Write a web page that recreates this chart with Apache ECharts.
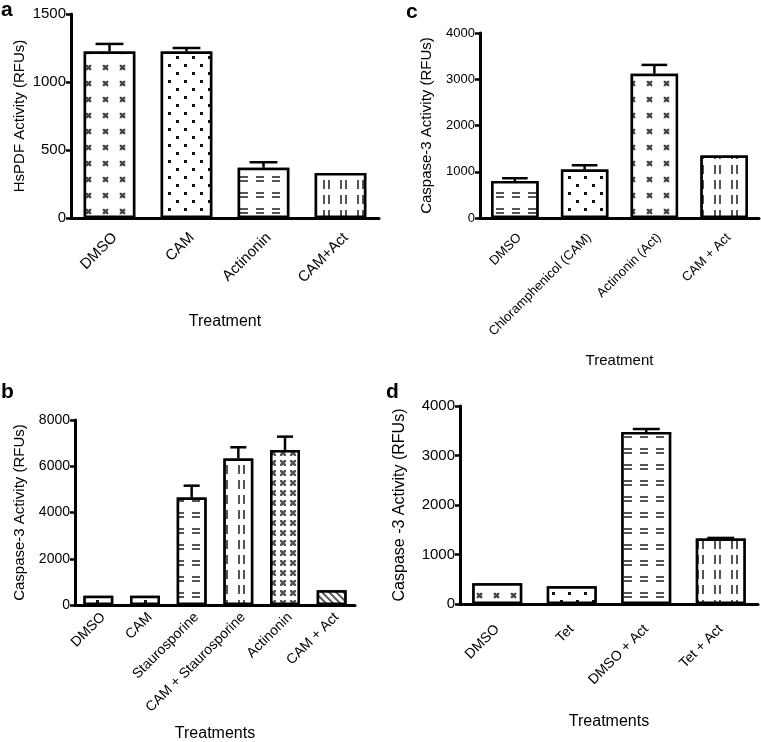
<!DOCTYPE html>
<html><head><meta charset="utf-8">
<script src="https://cdn.jsdelivr.net/npm/echarts@6/dist/echarts.min.js"></script>
<style>html,body{margin:0;padding:0;background:#fff}#c{width:761px;height:742px}</style>
</head><body><div id="c"></div>
<script>
// ---- Panel a ----
const aCategories = ['DMSO', 'CAM', 'Actinonin', 'CAM+Act'];
const aValues = [1225, 1225, 370, 330];
const aErrors = [55, 25, 40, 0];
const aTicks = [0, 500, 1000, 1500];
// ---- Panel c ----
const cCategories = ['DMSO', 'Chloramphenicol (CAM)', 'Actinonin (Act)', 'CAM + Act'];
const cValues = [800, 1050, 3120, 1350];
const cErrors = [60, 90, 190, 0];
const cTicks = [0, 1000, 2000, 3000, 4000];
// ---- Panel b ----
const bCategories = ['DMSO', 'CAM', 'Staurosporine', 'CAM + Staurosporine', 'Actinonin', 'CAM + Act'];
const bValues = [400, 400, 4650, 6340, 6700, 640];
const bErrors = [0, 0, 510, 480, 580, 0];
const bTicks = [0, 2000, 4000, 6000, 8000];
// ---- Panel d ----
const dCategories = ['DMSO', 'Tet', 'DMSO + Act', 'Tet + Act'];
const dValues = [420, 360, 3475, 1325];
const dErrors = [0, 0, 60, 10];
const dTicks = [0, 1000, 2000, 3000, 4000];

// fill patterns
const STAR = 'path://M0 0L3 0L5 2L7 0L10 0L10 3L8 5L10 7L10 10L7 10L5 8L3 10L0 10L0 7L2 5L0 3Z';
const P = {
  star: {symbol: STAR, symbolSize: 0.8, dashArrayX: [7, 10], dashArrayY: [7, 9], color: '#444', backgroundColor: '#fff'},
  dots: {symbol: 'rect', symbolSize: 1, dashArrayX: [[3, 13], [0, 8, 3, 5]], dashArrayY: [3, 5], color: '#111', backgroundColor: '#fff'},
  hdash: {symbol: 'rect', symbolSize: 1, dashArrayX: [8, 8], dashArrayY: [2, 2, 2, 10], color: '#555', backgroundColor: '#fff'},
  vdash: {symbol: 'rect', symbolSize: 1, dashArrayX: [2, 3, 2, 10], dashArrayY: [9, 6], color: '#555', backgroundColor: '#fff'},
  hatch: {symbol: STAR, symbolSize: 1, dashArrayX: [6, 4], dashArrayY: [6, 4], color: '#555', backgroundColor: '#fff'},
  diag: {symbol: 'rect', symbolSize: 1, dashArrayX: [1, 0], dashArrayY: [2, 3], rotation: Math.PI / 4, color: '#555', backgroundColor: '#fff'}
};
const aPatterns = ['star', 'dots', 'hdash', 'vdash'];
const cPatterns = ['hdash', 'dots', 'star', 'vdash'];
const bPatterns = ['dots', 'dots', 'hdash', 'vdash', 'hatch', 'diag'];
const dPatterns = ['star', 'dots', 'hdash', 'vdash'];

const FONT = 'Liberation Sans, Arial, sans-serif';
const panels = [
  {cats: aCategories, vals: aValues, errs: aErrors, ticks: aTicks, pats: aPatterns,
   grid: {left: 71, top: 14, width: 308, height: 204}, yName: 'HsPDF Activity (RFUs)', xName: 'Treatment',
   tickFont: 15, labelFont: 15, labelMargin: 12, labelVA: 'top', yNameFont: 15, xNameFont: 16, yGap: 44, xGap: 96, gap: '33%'},
  {cats: cCategories, vals: cValues, errs: cErrors, ticks: cTicks, pats: cPatterns,
   grid: {left: 480, top: 33, width: 279, height: 185}, yName: 'Caspase-3 Activity (RFUs)', xName: 'Treatment',
   tickFont: 13, labelFont: 13, labelMargin: 13, labelVA: 'top', yNameFont: 15, xNameFont: 15, yGap: 46, xGap: 135, gap: '32%'},
  {cats: bCategories, vals: bValues, errs: bErrors, ticks: bTicks, pats: bPatterns,
   grid: {left: 75, top: 420, width: 280, height: 185}, yName: 'Caspase-3 Activity (RFUs)', xName: 'Treatments',
   tickFont: 14, labelFont: 14, labelMargin: 5, labelVA: 'top', yNameFont: 15, xNameFont: 16, yGap: 48, xGap: 121, gap: '36%'},
  {cats: dCategories, vals: dValues, errs: dErrors, ticks: dTicks, pats: dPatterns,
   grid: {left: 460, top: 406, width: 298, height: 198}, yName: 'Caspase -3 Activity (RFUs)', xName: 'Treatments',
   tickFont: 15, labelFont: 14, labelMargin: 23, labelVA: 'middle', yNameFont: 16, xNameFont: 16, yGap: 52, xGap: 110, gap: '33%'}
];
const letters = [{t: 'a', x: 1, y: 0}, {t: 'c', x: 406, y: 2}, {t: 'b', x: 1, y: 382}, {t: 'd', x: 386, y: 382}];

const grids = [], xAxes = [], yAxes = [], series = [];
panels.forEach((p, i) => {
  grids.push(Object.assign({outerBoundsMode: 'none', containLabel: false}, p.grid));
  xAxes.push({
    type: 'category', gridIndex: i, data: p.cats,
    axisLine: {lineStyle: {color: '#000', width: 3}},
    axisTick: {alignWithLabel: true, length: 6, lineStyle: {color: '#000', width: 2.5}},
    axisLabel: {rotate: 45, fontSize: p.labelFont, color: '#000', fontFamily: FONT, margin: p.labelMargin,
      verticalAlign: p.labelVA, interval: 0},
    name: p.xName, nameLocation: 'middle', nameGap: p.xGap,
    nameTextStyle: {fontSize: p.xNameFont, color: '#000', fontFamily: FONT, verticalAlign: 'top'},
    splitLine: {show: false}
  });
  yAxes.push({
    type: 'value', gridIndex: i, min: p.ticks[0], max: p.ticks[p.ticks.length - 1], interval: p.ticks[1] - p.ticks[0],
    axisLine: {show: true, lineStyle: {color: '#000', width: 3}},
    axisTick: {show: true, length: 5, lineStyle: {color: '#000', width: 2.5}},
    axisLabel: {fontSize: p.tickFont, color: '#000', fontFamily: FONT, margin: 5, formatter: v => String(v)},
    splitLine: {show: false},
    name: p.yName, nameLocation: 'middle', nameRotate: 90, nameGap: p.yGap,
    nameTextStyle: {fontSize: p.yNameFont, color: '#000', fontFamily: FONT}
  });
  series.push({
    type: 'bar', xAxisIndex: i, yAxisIndex: i, barCategoryGap: p.gap, silent: true,
    data: p.vals.map((v, k) => ({value: v, itemStyle: {color: '#fff', borderColor: '#000', borderWidth: 2.5, decal: P[p.pats[k]]}})),
    animation: false
  });
  series.push({
    type: 'custom', xAxisIndex: i, yAxisIndex: i, silent: true, animation: false, z: 1,
    data: p.vals.map((v, k) => [k, v, v + p.errs[k]]),
    renderItem: function (params, api) {
      const idx = api.value(0), lo = api.value(1), hi = api.value(2);
      if (hi <= lo) return null;
      const a = api.coord([idx, lo]), b = api.coord([idx, hi]);
      const half = api.size([1, 0])[0] * (1 - parseFloat(p.gap) / 100) * 0.27;
      const st = {stroke: '#000', lineWidth: 2.5};
      return {type: 'group', children: [
        {type: 'line', shape: {x1: a[0], y1: a[1], x2: b[0], y2: b[1]}, style: st},
        {type: 'line', shape: {x1: b[0] - half, y1: b[1], x2: b[0] + half, y2: b[1]}, style: st}
      ]};
    }
  });
});

const chart = echarts.init(document.getElementById('c'), null, {renderer: 'canvas'});
chart.setOption({
  backgroundColor: '#fff',
  animation: false,
  title: letters.map(l => ({text: l.t, left: l.x, top: l.y, padding: 0,
    textStyle: {fontSize: 21, fontWeight: 'bold', color: '#000', fontFamily: FONT}})),
  grid: grids, xAxis: xAxes, yAxis: yAxes, series: series
});
</script></body></html>
